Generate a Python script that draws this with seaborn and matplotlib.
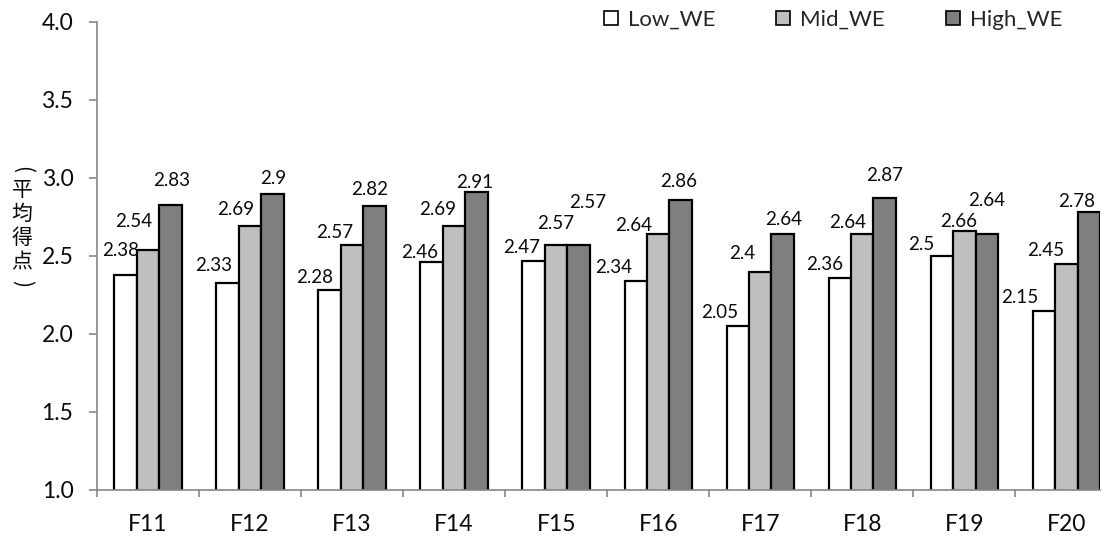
import matplotlib
matplotlib.use("Agg")
import matplotlib.pyplot as plt
import numpy as np
import pandas as pd
import seaborn as sns
from matplotlib.patches import Patch

# ---- data -------------------------------------------------------------
factors = ["F11", "F12", "F13", "F14", "F15", "F16", "F17", "F18", "F19", "F20"]
groups = ["Low_WE", "Mid_WE", "High_WE"]
low_we = [2.38, 2.33, 2.28, 2.46, 2.47, 2.34, 2.05, 2.36, 2.50, 2.15]
mid_we = [2.54, 2.69, 2.57, 2.69, 2.57, 2.64, 2.40, 2.64, 2.66, 2.45]
high_we = [2.83, 2.90, 2.82, 2.91, 2.57, 2.86, 2.64, 2.87, 2.64, 2.78]
y_ticks = [1.0, 1.5, 2.0, 2.5, 3.0, 3.5, 4.0]
y_label = "(平均得点)"

# ---- styling ------------------------------------------------------------
colors = ["#FFFFFF", "#BFBFBF", "#7F7F7F"]
axis_grey = "#868686"
text_col = "#0a0a0a"
# label nudges (pixels, x / up) so neighbouring value labels do not collide
label_nudge = {
    "Low_WE": [(-5, 24), (-14, 17), (-15, 13), (-12, 10), (-12, 13),
               (-22, 13), (-18, 14), (-15, 13), (-21, 12), (-24, 13)],
    "Mid_WE": [(-14, 28), (-14, 17), (-17, 13), (-17, 17), (0, 22),
               (-25, 9), (-18, 18), (-15, 12), (-6, 10), (-21, 13)],
    "High_WE": [(1, 24), (1, 15), (-5, 17), (-2, 10), (9, 43),
                (-2, 18), (1, 15), (0, 23), (0, 34), (-12, 11)],
}

sns.set_theme(style="white")
plt.rcParams["font.family"] = ["Lato", "DejaVu Sans"]

series = {"Low_WE": low_we, "Mid_WE": mid_we, "High_WE": high_we}
df = pd.DataFrame(
    [(f, g, v) for g in groups for f, v in zip(factors, series[g])],
    columns=["factor", "group", "score"],
)

W, H = 1110, 537
fig = plt.figure(figsize=(W / 100, H / 100), dpi=100)
ax = fig.add_axes([97 / W, 1 - 490 / H, 1003 / W, 468 / H])

sns.barplot(
    data=df, x="factor", y="score", hue="group",
    order=factors, hue_order=groups, palette=colors, saturation=1,
    width=0.66, edgecolor="black", linewidth=1.6, legend=False, ax=ax,
)

# value labels above each bar
for g, cont in zip(groups, ax.containers):
    for bar, v, (dx, dy) in zip(cont, series[g], label_nudge[g]):
        ax.annotate(
            f"{v:g}", xy=(bar.get_x() + bar.get_width() / 2, v),
            xytext=(dx, dy), textcoords="offset pixels",
            ha="center", va="center", fontsize=13.5, color=text_col,
        )

ax.set_ylim(1.0, 4.0)
ax.set_xlim(-0.5, 9.33)
ax.set_yticks(y_ticks)
ax.set_yticklabels([f"{t:.1f}" for t in y_ticks])
ax.set_xticks(range(len(factors)))
ax.set_xticklabels(factors)
ax.set_xticks(np.arange(-0.5, len(factors) - 0.5, 1.0), minor=True)
ax.set_xlabel("")
ax.set_ylabel("")

ax.tick_params(axis="x", which="major", length=0, pad=17, labelsize=16.5,
               labelcolor=text_col)
ax.tick_params(axis="x", which="minor", length=5, width=1.2, color=axis_grey,
               direction="out", bottom=True)
ax.tick_params(axis="y", which="major", length=6, width=1.2, color=axis_grey,
               direction="out", left=True, pad=11, labelsize=16.5,
               labelcolor=text_col)

for side in ("top", "right"):
    ax.spines[side].set_visible(False)
for side in ("left", "bottom"):
    ax.spines[side].set_color(axis_grey)
    ax.spines[side].set_linewidth(1.2)

# vertical Japanese axis title, stacked one glyph per row;
# the brackets are turned sideways as in vertical writing
cjk = ["Noto Sans CJK JP", "DejaVu Sans"]
row_y = 169.0
for i, ch in enumerate(y_label):
    if i > 0:
        prev_br = y_label[i - 1] in "()"
        row_y += 21 if (prev_br or ch in "()") else 24
    rot = -90 if ch in "()" else 0
    fig.text(22 / W, 1 - row_y / H, ch, ha="center", va="center",
             rotation=rot, fontsize=15, family=cjk, color=text_col)

handles = [Patch(facecolor=c, edgecolor="black", linewidth=1.2) for c in colors]
ax.legend(
    handles, groups, ncol=3, frameon=False, fontsize=16,
    loc="center left", bbox_to_anchor=(604 / W, 1 - 20 / H),
    bbox_transform=fig.transFigure, borderpad=0, borderaxespad=0,
    handlelength=0.62, handleheight=0.62, handletextpad=0.45,
    columnspacing=2.75,
)

fig.savefig("out.png", dpi=100)
